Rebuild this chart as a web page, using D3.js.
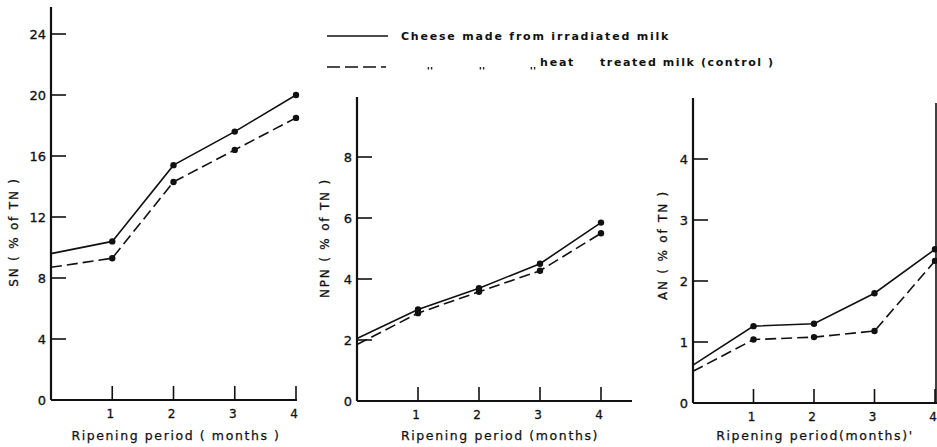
<!DOCTYPE html>
<html>
<head>
<meta charset="utf-8">
<script src="https://cdn.jsdelivr.net/npm/d3@7"></script>
<style>
  body { margin: 0; background: #fff; }
  text { font-family: "DejaVu Sans", sans-serif; fill: #111; }
</style>
</head>
<body>
<svg id="chart" width="937" height="447"></svg>
<script>
const months = [0, 1, 2, 3, 4];
const xTicks = [1, 2, 3, 4];

const snIrradiated = [9.6, 10.4, 15.4, 17.6, 20.0];
const snControl = [8.7, 9.3, 14.3, 16.4, 18.5];
const npnIrradiated = [2.05, 3.0, 3.7, 4.5, 5.85];
const npnControl = [1.85, 2.88, 3.58, 4.27, 5.5];
const anIrradiated = [0.62, 1.26, 1.3, 1.8, 2.52];
const anControl = [0.52, 1.04, 1.08, 1.18, 2.33];

const snTicks = [0, 4, 8, 12, 16, 20, 24];
const npnTicks = [0, 2, 4, 6, 8];
const anTicks = [0, 1, 2, 3, 4];

const legendLabels = ["Cheese made from irradiated milk", "heat", "treated milk (control )"];

const svg = d3.select("#chart");

function drawPanel(p) {
  const x = d3.scaleLinear().domain([0, 4]).range([p.left, p.right]);
  const y = d3.scaleLinear().domain([0, p.yMax]).range([p.bottom, p.yTop]);
  const g = svg.append("g");

  // axes
  g.append("line")
    .attr("x1", p.left).attr("x2", p.left)
    .attr("y1", p.axisTop).attr("y2", p.bottom)
    .attr("stroke", "#111").attr("stroke-width", 2.2);
  g.append("line")
    .attr("x1", p.left).attr("x2", p.axisRight)
    .attr("y1", p.bottom).attr("y2", p.bottom)
    .attr("stroke", "#111").attr("stroke-width", 2);

  g.selectAll(".yt").data(p.yTicks.filter(d => d > 0)).enter().append("line")
    .attr("x1", p.left).attr("x2", p.left + 15)
    .attr("y1", d => y(d)).attr("y2", d => y(d))
    .attr("stroke", "#111").attr("stroke-width", 1.6);
  g.selectAll(".yl").data(p.yTicks).enter().append("text")
    .attr("x", p.left - 5).attr("y", d => y(d))
    .attr("dy", "0.36em").attr("text-anchor", "end")
    .attr("font-size", 13).attr("stroke", "#111").attr("stroke-width", 0.3)
    .text(d => d);

  g.selectAll(".xt").data(xTicks).enter().append("line")
    .attr("x1", d => x(d)).attr("x2", d => x(d))
    .attr("y1", p.bottom).attr("y2", p.bottom - 14)
    .attr("stroke", "#111").attr("stroke-width", 1.6);
  g.selectAll(".xl").data(xTicks).enter().append("text")
    .attr("x", d => x(d) - 2).attr("y", p.bottom + 18)
    .attr("text-anchor", "middle").attr("font-size", 12)
    .attr("stroke", "#111").attr("stroke-width", 0.3)
    .text(d => d);

  g.append("text")
    .attr("x", p.titleX).attr("y", 440)
    .attr("text-anchor", "middle").attr("font-size", 12.5)
    .attr("letter-spacing", 1.6)
    .attr("stroke", "#111").attr("stroke-width", 0.25)
    .text(p.xTitle);

  g.append("text")
    .attr("transform", `translate(${p.yLabelX},${p.yLabelY}) rotate(-90)`)
    .attr("text-anchor", "middle").attr("font-size", 12)
    .attr("letter-spacing", 1.8)
    .attr("stroke", "#111").attr("stroke-width", 0.3)
    .text(p.yTitle);

  if (p.frameLine) {
    g.append("line")
      .attr("x1", 936).attr("x2", 936)
      .attr("y1", 103).attr("y2", p.bottom)
      .attr("stroke", "#111").attr("stroke-width", 1.6);
  }

  const line = d3.line().x((d, i) => x(months[i])).y(d => y(d));

  g.append("path").datum(p.solid)
    .attr("d", line).attr("fill", "none")
    .attr("stroke", "#111").attr("stroke-width", 1.6);
  g.append("path").datum(p.dashed)
    .attr("d", line).attr("fill", "none")
    .attr("stroke", "#111").attr("stroke-width", 1.6)
    .attr("stroke-dasharray", "11,5");

  [p.solid, p.dashed].forEach(vals => {
    g.selectAll(null).data(vals.slice(1)).enter().append("circle")
      .attr("cx", (d, i) => x(months[i + 1]))
      .attr("cy", d => y(d))
      .attr("r", 3.2).attr("fill", "#111");
  });
}

drawPanel({
  left: 51, right: 296, axisRight: 297, bottom: 400, yTop: 34, axisTop: 7, yMax: 24,
  yTicks: snTicks, solid: snIrradiated, dashed: snControl,
  xTitle: "Ripening period ( months )", titleX: 176,
  yTitle: "SN ( % of TN )", yLabelX: 18, yLabelY: 232
});
drawPanel({
  left: 357, right: 601, axisRight: 632, bottom: 401, yTop: 157, axisTop: 97, yMax: 8,
  yTicks: npnTicks, solid: npnIrradiated, dashed: npnControl,
  xTitle: "Ripening period (months)", titleX: 500,
  yTitle: "NPN ( % of TN )", yLabelX: 329, yLabelY: 238
});
drawPanel({
  left: 693, right: 935, axisRight: 937, bottom: 403, yTop: 159, axisTop: 98, yMax: 4,
  yTicks: anTicks, solid: anIrradiated, dashed: anControl,
  xTitle: "Ripening period(months)'", titleX: 815,
  yTitle: "AN ( % of TN )", yLabelX: 667, yLabelY: 245, frameLine: true
});

// legend
const lg = svg.append("g");
lg.append("line")
  .attr("x1", 327).attr("x2", 388).attr("y1", 36).attr("y2", 36)
  .attr("stroke", "#111").attr("stroke-width", 1.6);
lg.append("line")
  .attr("x1", 327).attr("x2", 386).attr("y1", 67).attr("y2", 67)
  .attr("stroke", "#111").attr("stroke-width", 1.6)
  .attr("stroke-dasharray", "13,5");
lg.append("text")
  .attr("x", 401).attr("y", 40).attr("font-size", 11).attr("font-weight", "bold")
  .attr("letter-spacing", 1.8)
  .text(legendLabels[0]);
// ditto marks
const dittoX = [430, 482, 533];
dittoX.forEach(dx => {
  [-1.6, 1.6].forEach(off => {
    lg.append("rect")
      .attr("x", dx + off - 0.7).attr("y", 67)
      .attr("width", 1.4).attr("height", 2.5)
      .attr("fill", "#222");
  });
});
lg.append("text")
  .attr("x", 540).attr("y", 66).attr("font-size", 11).attr("font-weight", "bold")
  .attr("letter-spacing", 1.8)
  .text(legendLabels[1]);
lg.append("text")
  .attr("x", 600).attr("y", 66).attr("font-size", 11).attr("font-weight", "bold")
  .attr("letter-spacing", 1.6)
  .text(legendLabels[2]);
</script>
</body>
</html>
